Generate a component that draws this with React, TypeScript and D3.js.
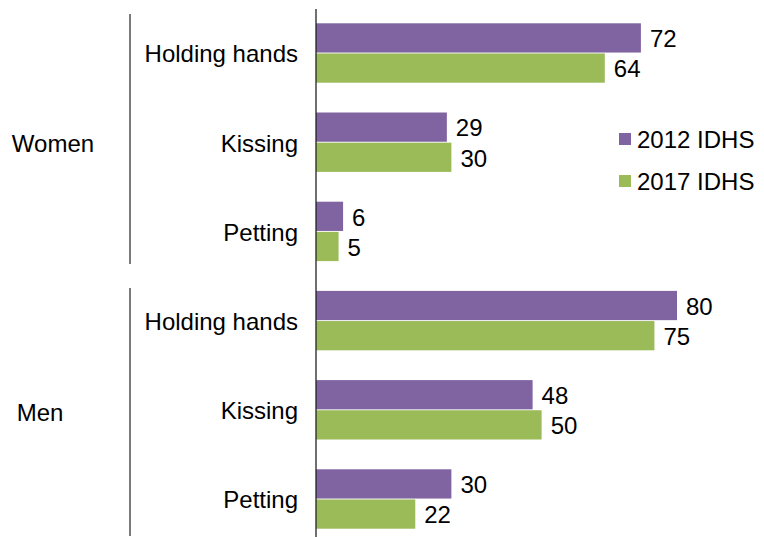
import React from "react";
import * as d3 from "d3";

const groups = ["Women", "Men"];
const categories = ["Holding hands", "Kissing", "Petting"];
const seriesNames = ["2012 IDHS", "2017 IDHS"];
const values2012 = [72, 29, 6, 80, 48, 30];
const values2017 = [64, 30, 5, 75, 50, 22];
const colors = ["#8064A2", "#9BBB59"];

const W = 764;
const H = 537;
const FONT = "'Liberation Sans', Arial, Helvetica, sans-serif";
const FS = 24;

export default function App() {
  const rows = groups.flatMap((g) => categories.map((c) => ({ group: g, cat: c, key: g + "|" + c })));
  const series = [values2012, values2017];

  const x = d3.scaleLinear().domain([0, 80]).range([316, 677]);
  const y = d3
    .scaleBand<string>()
    .domain(rows.map((r) => r.key))
    .range([8.4, 543.6])
    .paddingInner(0.334)
    .paddingOuter(0.167);
  const inner = d3.scaleBand<number>().domain([0, 1]).range([0, y.bandwidth()]).paddingInner(0.03);
  const step = y.step();

  return (
    <svg
      width={W}
      height={H}
      style={{ position: "absolute", left: 0, top: 0, background: "#fff" }}
      fontFamily={FONT}
    >
      {rows.map((r, i) =>
        series.map((vals, s) => (
          <rect
            key={r.key + s}
            x={x(0)}
            y={(y(r.key) as number) + (inner(s) as number)}
            width={x(vals[i]) - x(0)}
            height={inner.bandwidth()}
            fill={colors[s]}
          />
        ))
      )}
      {rows.map((r, i) =>
        series.map((vals, s) => (
          <text
            key={"v" + r.key + s}
            x={x(vals[i]) + 9}
            y={(y(r.key) as number) + (inner(s) as number) + inner.bandwidth() / 2 + 3}
            dominantBaseline="middle"
            fontSize={FS}
            fill="#000"
          >
            {vals[i]}
          </text>
        ))
      )}
      <line x1={x(0)} x2={x(0)} y1={y.range()[0] + 0.6} y2={H} stroke="#222" strokeWidth={1.3} />
      {rows.map((r) => (
        <text
          key={"c" + r.key}
          x={298}
          y={(y(r.key) as number) + y.bandwidth() / 2 + 3}
          textAnchor="end"
          dominantBaseline="middle"
          fontSize={FS}
          fill="#000"
        >
          {r.cat}
        </text>
      ))}
      {groups.map((g, gi) => {
        const start = y.range()[0] + gi * categories.length * step;
        const end = start + categories.length * step;
        const top = gi === 0 ? start + 5.6 : start + 12;
        const bottom = gi === groups.length - 1 ? end - 7.6 : end - 12;
        const center = (start + end) / 2;
        return (
          <g key={g}>
            <line x1={130} x2={130} y1={top} y2={bottom} stroke="#222" strokeWidth={1.2} />
            <text
              x={gi === 0 ? 53 : 40}
              y={center + (gi === 0 ? 3 : 5)}
              textAnchor="middle"
              dominantBaseline="middle"
              fontSize={FS}
              fill="#000"
            >
              {g}
            </text>
          </g>
        );
      })}
      {seriesNames.map((n, i) => (
        <g key={n} transform={`translate(619, ${133 + i * 42})`}>
          <rect x={0} y={0} width={12} height={12} fill={colors[i]} />
          <text x={18} y={9} dominantBaseline="middle" fontSize={FS} fill="#000">
            {n}
          </text>
        </g>
      ))}
    </svg>
  );
}
